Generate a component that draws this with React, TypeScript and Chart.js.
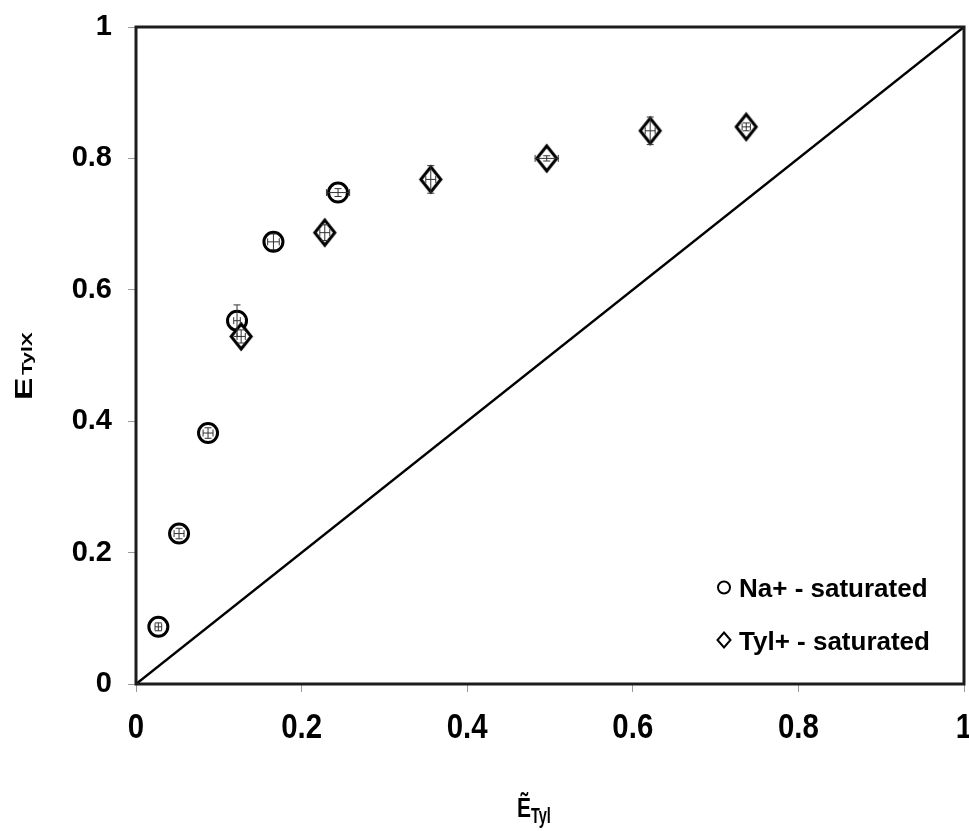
import React, { useEffect, useRef } from 'react';
import { Chart, registerables } from 'chart.js';

Chart.register(...registerables);

// ---- data ----
const naX = [0.027, 0.052, 0.087, 0.122, 0.166, 0.244];
const naY = [0.087, 0.229, 0.382, 0.553, 0.673, 0.748];
const naXErr = [0.004, 0.006, 0.006, 0.004, 0.007, 0.014];
const naYErr = [0.006, 0.008, 0.008, 0.024, 0.012, 0.006];

const tylX = [0.127, 0.228, 0.356, 0.496, 0.621, 0.737];
const tylY = [0.529, 0.687, 0.768, 0.8, 0.842, 0.848];
const tylXErr = [0.005, 0.006, 0.006, 0.014, 0.006, 0.005];
const tylYErr = [0.01, 0.012, 0.021, 0.004, 0.021, 0.006];

const diagX = [0, 1];
const diagY = [0, 1];

const tickValues = [0, 0.2, 0.4, 0.6, 0.8, 1];
const tickLabels = ['0', '0.2', '0.4', '0.6', '0.8', '1'];
const seriesLabels = ['Na+ - saturated', 'Tyl+ - saturated'];
const xTitleMain = 'Ẽ';
const xTitleSub = 'Tyl';
const yTitleMain = 'E';
const yTitleSub = 'TylX';

const FONT = '"Liberation Sans", Arial, Helvetica, sans-serif';

function makeDiamond(hw: number, hh: number, lw: number): HTMLCanvasElement {
  const c = document.createElement('canvas');
  const pad = 4;
  c.width = Math.ceil(2 * (hw + pad));
  c.height = Math.ceil(2 * (hh + pad));
  const g = c.getContext('2d')!;
  const cx = c.width / 2;
  const cy = c.height / 2;
  g.beginPath();
  g.moveTo(cx, cy - hh);
  g.lineTo(cx + hw, cy);
  g.lineTo(cx, cy + hh);
  g.lineTo(cx - hw, cy);
  g.closePath();
  g.fillStyle = '#fff';
  g.fill();
  g.lineWidth = lw;
  g.lineJoin = 'miter';
  g.strokeStyle = '#000';
  g.stroke();
  return c;
}

const errorBarsPlugin = {
  id: 'errorBars',
  afterDatasetsDraw(chart: any) {
    const ctx = chart.ctx;
    const xs = chart.scales.x;
    const ys = chart.scales.y;
    ctx.save();
    ctx.strokeStyle = '#333';
    ctx.lineWidth = 1;
    chart.data.datasets.forEach((ds: any) => {
      if (!ds.errX) return;
      ds.data.forEach((p: any, i: number) => {
        const px = xs.getPixelForValue(p.x);
        const py = ys.getPixelForValue(p.y);
        const ex = ds.errX[i];
        const ey = ds.errY[i];
        const x1 = xs.getPixelForValue(p.x - ex);
        const x2 = xs.getPixelForValue(p.x + ex);
        const y1 = ys.getPixelForValue(p.y - ey);
        const y2 = ys.getPixelForValue(p.y + ey);
        const cap = 3.5;
        ctx.beginPath();
        ctx.moveTo(px, y1);
        ctx.lineTo(px, y2);
        ctx.moveTo(px - cap, y1);
        ctx.lineTo(px + cap, y1);
        ctx.moveTo(px - cap, y2);
        ctx.lineTo(px + cap, y2);
        ctx.moveTo(x1, py);
        ctx.lineTo(x2, py);
        ctx.moveTo(x1, py - cap);
        ctx.lineTo(x1, py + cap);
        ctx.moveTo(x2, py - cap);
        ctx.lineTo(x2, py + cap);
        ctx.stroke();
      });
    });
    ctx.restore();
  },
};

const decorPlugin = {
  id: 'decor',
  afterDraw(chart: any) {
    const ctx = chart.ctx;
    const a = chart.chartArea;
    const xs = chart.scales.x;
    ctx.save();
    // frame
    ctx.strokeStyle = '#1c1c1c';
    ctx.lineWidth = 3;
    ctx.strokeRect(a.left, a.top, a.right - a.left, a.bottom - a.top);

    ctx.fillStyle = '#000';
    // x tick labels (condensed)
    ctx.font = `bold 35px ${FONT}`;
    ctx.textAlign = 'center';
    ctx.textBaseline = 'alphabetic';
    xs.ticks.forEach((t: any, i: number) => {
      const px = xs.getPixelForValue(t.value);
      ctx.save();
      ctx.translate(px, a.bottom + 54);
      ctx.scale(0.84, 1);
      ctx.fillText(tickLabels[i], 0, 0);
      ctx.restore();
    });

    // x title
    const cx = (a.left + a.right) / 2;
    ctx.textAlign = 'left';
    ctx.save();
    ctx.translate(cx - 33, a.bottom + 133);
    ctx.scale(0.75, 1);
    ctx.font = `bold 28px ${FONT}`;
    ctx.fillText(xTitleMain, 0, 0);
    ctx.restore();
    ctx.save();
    ctx.translate(cx - 19, a.bottom + 139);
    ctx.scale(0.66, 1);
    ctx.font = `bold 22px ${FONT}`;
    ctx.fillText(xTitleSub, 0, 0);
    ctx.restore();

    // y title (rotated)
    const cy = (a.top + a.bottom) / 2 + 9.5;
    ctx.save();
    ctx.translate(a.left - 104, cy);
    ctx.rotate(-Math.PI / 2);
    ctx.save();
    ctx.translate(-35, 0);
    ctx.scale(1.4, 1);
    ctx.font = `bold 24px ${FONT}`;
    ctx.fillText(yTitleMain, 0, 0);
    ctx.restore();
    ctx.save();
    ctx.translate(-10, 0);
    ctx.scale(1.5, 1);
    ctx.font = `bold 14px ${FONT}`;
    ctx.fillText(yTitleSub, 0, 0);
    ctx.restore();
    ctx.restore();

    // legend
    const series = chart.data.datasets.filter((d: any) => d.inLegend);
    ctx.font = `bold 26px ${FONT}`;
    ctx.textAlign = 'left';
    series.forEach((d: any, i: number) => {
      const base = a.bottom - 87 + i * 52.5;
      const mx = a.right - 240;
      const my = base - 9.5;
      ctx.beginPath();
      ctx.lineWidth = 2;
      ctx.strokeStyle = '#000';
      if (d.legendShape === 'circle') {
        ctx.arc(mx, my, 6, 0, Math.PI * 2);
      } else {
        ctx.moveTo(mx, my - 7.5);
        ctx.lineTo(mx + 6.5, my);
        ctx.lineTo(mx, my + 7.5);
        ctx.lineTo(mx - 6.5, my);
        ctx.closePath();
      }
      ctx.stroke();
      ctx.fillText(d.label, a.right - 225, base);
    });
    ctx.restore();
  },
};

export default function App() {
  const ref = useRef<HTMLCanvasElement | null>(null);

  useEffect(() => {
    if (!ref.current) return;
    const diamond = makeDiamond(10, 12.5, 3);
    const chart = new Chart(ref.current, {
      type: 'scatter',
      data: {
        datasets: [
          {
            label: 'diagonal',
            data: diagX.map((x, i) => ({ x, y: diagY[i] })),
            showLine: true,
            borderColor: '#000',
            borderWidth: 2.5,
            pointRadius: 0,
            order: 3,
          } as any,
          {
            label: seriesLabels[0],
            data: naX.map((x, i) => ({ x, y: naY[i] })),
            errX: naXErr,
            errY: naYErr,
            inLegend: true,
            legendShape: 'circle',
            pointStyle: 'circle',
            pointRadius: 9.5,
            pointBorderWidth: 3,
            borderWidth: 3,
            borderColor: '#000',
            backgroundColor: '#fff',
            order: 2,
          } as any,
          {
            label: seriesLabels[1],
            data: tylX.map((x, i) => ({ x, y: tylY[i] })),
            errX: tylXErr,
            errY: tylYErr,
            inLegend: true,
            legendShape: 'diamond',
            pointStyle: diamond,
            pointRadius: 12,
            borderColor: '#000',
            backgroundColor: '#fff',
            order: 1,
          } as any,
        ],
      },
      options: {
        responsive: false,
        animation: false,
        events: [],
        layout: { autoPadding: false, padding: { top: 27, right: 5, left: 0, bottom: 0 } },
        plugins: {
          legend: { display: false },
          tooltip: { enabled: false },
          title: { display: false },
        },
        scales: {
          x: {
            type: 'linear',
            min: 0,
            max: 1,
            afterBuildTicks: (s: any) => {
              s.ticks = tickValues.map((v) => ({ value: v }));
            },
            ticks: { display: false },
            grid: {
              drawOnChartArea: false,
              drawTicks: true,
              tickLength: 8,
              color: '#9a9a9a',
              lineWidth: 1,
            },
            border: { display: false },
            afterFit: (s: any) => {
              s.height = 147;
              s.paddingLeft = 0;
              s.paddingRight = 0;
            },
          },
          y: {
            type: 'linear',
            min: 0,
            max: 1,
            afterBuildTicks: (s: any) => {
              s.ticks = tickValues.map((v) => ({ value: v }));
            },
            ticks: {
              padding: 16,
              color: '#000',
              font: { family: FONT, size: 29, weight: 'bold' },
              callback: (v: any) => tickLabels[tickValues.indexOf(Number(v))] ?? String(v),
            },
            grid: {
              drawOnChartArea: false,
              drawTicks: true,
              tickLength: 8,
              color: '#9a9a9a',
              lineWidth: 1,
            },
            border: { display: false },
            afterFit: (s: any) => {
              s.width = 136;
              s.paddingTop = 0;
              s.paddingBottom = 0;
            },
          },
        },
      } as any,
      plugins: [errorBarsPlugin, decorPlugin],
    });
    return () => chart.destroy();
  }, []);

  return (
    <div style={{ position: 'fixed', left: 0, top: 0, width: 969, height: 831, background: '#fff' }}>
      <canvas ref={ref} width={969} height={831} style={{ display: 'block' }} />
    </div>
  );
}
